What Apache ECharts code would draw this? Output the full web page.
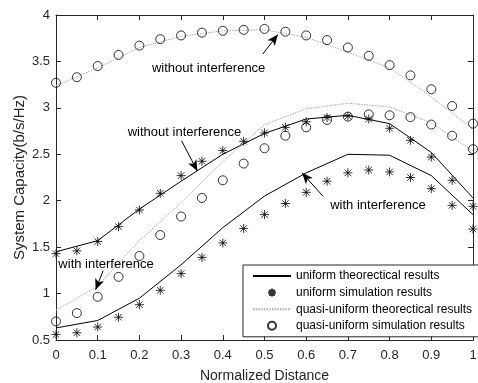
<!DOCTYPE html>
<html>
<head>
<meta charset="utf-8">
<script src="https://cdn.jsdelivr.net/npm/echarts@6/dist/echarts.min.js"></script>
<style>
html,body{margin:0;padding:0;background:#fff;}
#chart{width:478px;height:383px;}
</style>
</head>
<body>
<div id="chart"></div>
<script>
// ---- data ----
var simX = [0,0.05,0.1,0.15,0.2,0.25,0.3,0.35,0.4,0.45,0.5,0.55,0.6,0.65,0.7,0.75,0.8,0.85,0.9,0.95,1.0];
var theoX = [0,0.1,0.2,0.3,0.4,0.5,0.6,0.7,0.8,0.9,1.0];

// uniform theoretical (solid black)
var uniTheoNoInt = [1.45,1.57,1.91,2.21,2.50,2.725,2.88,2.92,2.83,2.52,2.03];
var uniTheoInt   = [0.63,0.71,0.95,1.31,1.71,2.05,2.30,2.50,2.49,2.27,1.85];
// uniform simulation (asterisks)
var uniSimNoInt = [1.43,1.46,1.56,1.72,1.90,2.08,2.27,2.425,2.54,2.64,2.73,2.79,2.85,2.895,2.91,2.88,2.78,2.65,2.47,2.22,1.94];
var uniSimInt   = [0.56,0.578,0.64,0.745,0.88,1.035,1.215,1.39,1.545,1.70,1.85,1.97,2.09,2.21,2.30,2.33,2.31,2.25,2.13,1.95,1.695];
// quasi-uniform theoretical (dotted gray)
var quasiTheoNoInt = [3.24,3.43,3.65,3.77,3.83,3.84,3.76,3.60,3.43,3.12,2.77];
var quasiTheoInt   = [0.82,1.08,1.57,1.98,2.42,2.82,2.99,3.05,3.01,2.84,2.53];
// quasi-uniform simulation (circles)
var quasiSimNoInt = [3.27,3.33,3.45,3.57,3.67,3.74,3.78,3.81,3.83,3.84,3.85,3.82,3.78,3.73,3.65,3.56,3.46,3.35,3.20,3.02,2.83];
var quasiSimInt   = [0.70,0.79,0.965,1.18,1.405,1.63,1.83,2.03,2.22,2.40,2.565,2.70,2.79,2.87,2.905,2.93,2.92,2.90,2.82,2.70,2.555];

var xTicks = {min:0, max:1, interval:0.1};
var yTicks = {min:0.5, max:4, interval:0.5};

var seriesNames = ['uniform theorectical results','uniform simulation results','quasi-uniform theorectical results','quasi-uniform simulation results'];

// annotations: text [x,y] and arrows [tailX,tailY,tipX,tipY] in data space
var annoTexts = [
  {text:'without interference', pos:[0.366,3.43]},
  {text:'without interference', pos:[0.308,2.735]},
  {text:'with interference', pos:[0.772,1.95]},
  {text:'with interference', pos:[0.12,1.313]}
];
var annoArrows = [
  [0.496,3.58,0.532,3.79],
  [0.301,2.647,0.339,2.32],
  [0.641,2.045,0.590,2.30],
  [0.113,1.247,0.095,1.04]
];

function pairs(xs, ys){ return xs.map(function(x,i){ return [x, ys[i]]; }); }

var FONT = '"Liberation Sans", Arial, Helvetica, sans-serif';
var starPath = 'path://M0 -5 L0 5 M-5 0 L5 0 M-3.6 -3.6 L3.6 3.6 M-3.6 3.6 L3.6 -3.6';
var clear = 'rgba(0,0,0,0)';

function lineSeries(name, ys, style){
  return {
    name:name, type:'line', data:pairs(theoX, ys), symbol:'none', showSymbol:false,
    lineStyle:style, itemStyle:{color:clear, borderWidth:0, opacity:0}, silent:true, animation:false, z:2
  };
}
function starSeries(name, ys){
  return {
    name:name, type:'scatter', data:pairs(simX, ys), symbol:starPath, symbolSize:9,
    itemStyle:{color:clear, borderColor:'#000', borderWidth:1}, silent:true, animation:false, z:3
  };
}
function circleSeries(name, ys){
  return {
    name:name, type:'scatter', data:pairs(simX, ys), symbol:'circle', symbolSize:9,
    itemStyle:{color:clear, borderColor:'#000', borderWidth:1}, silent:true, animation:false, z:3
  };
}

var solid = {color:'#000', width:1, type:'solid'};
var dotted = {color:'#a8a8a8', width:1, type:[1.5,1.2]};

var series = [
  lineSeries(seriesNames[0], uniTheoNoInt, solid),
  lineSeries(seriesNames[0], uniTheoInt, solid),
  starSeries(seriesNames[1], uniSimNoInt),
  starSeries(seriesNames[1], uniSimInt),
  lineSeries(seriesNames[2], quasiTheoNoInt, dotted),
  lineSeries(seriesNames[2], quasiTheoInt, dotted),
  circleSeries(seriesNames[3], quasiSimNoInt),
  circleSeries(seriesNames[3], quasiSimInt)
];

// annotation carrier series
series.push({
  name:'annotations', type:'line', data:[], silent:true, animation:false, z:5,
  markLine:{
    silent:true, animation:false, symbol:['none','arrow'], symbolSize:[7,11],
    lineStyle:{color:'#000', width:1, type:'solid'}, label:{show:false},
    data: annoArrows.map(function(a){ return [{coord:[a[0],a[1]]},{coord:[a[2],a[3]]}]; })
  },
  markPoint:{
    silent:true, animation:false, symbol:'circle', symbolSize:0,
    label:{show:true, position:'inside', color:'#000', fontSize:13, fontFamily:FONT},
    data: annoTexts.map(function(t){ return {coord:t.pos, value:t.text, label:{formatter:t.text}}; })
  }
});

var axisCommon = {
  type:'value', splitLine:{show:false},
  axisLine:{show:true, onZero:false, lineStyle:{color:'#262626', width:1}},
  axisTick:{show:true, inside:true, length:5, lineStyle:{color:'#262626'}}
};

var lineLegendStyle = {color:clear, borderWidth:0, opacity:0};

var option = {
  backgroundColor:'#fff',
  animation:false,
  grid:{left:56, right:5, top:15, bottom:43, containLabel:false, outerBoundsMode:'none'},
  xAxis:[
    Object.assign({}, axisCommon, {
      position:'bottom', min:xTicks.min, max:xTicks.max, interval:xTicks.interval,
      axisLabel:{color:'#262626', fontSize:13, fontFamily:FONT, margin:9},
      name:'Normalized Distance', nameLocation:'middle', nameGap:29, nameMoveOverlap:false,
      nameTextStyle:{color:'#262626', fontSize:14, fontFamily:FONT}
    }),
    Object.assign({}, axisCommon, {
      position:'top', min:xTicks.min, max:xTicks.max, interval:xTicks.interval,
      axisLabel:{show:false}
    })
  ],
  yAxis:[
    Object.assign({}, axisCommon, {
      position:'left', min:yTicks.min, max:yTicks.max, interval:yTicks.interval,
      axisLabel:{color:'#262626', fontSize:13, fontFamily:FONT, margin:6},
      name:'System Capacity(b/s/Hz)', nameLocation:'middle', nameGap:29, nameMoveOverlap:false,
      nameTextStyle:{color:'#262626', fontSize:15, fontFamily:FONT}
    }),
    Object.assign({}, axisCommon, {
      position:'right', min:yTicks.min, max:yTicks.max, interval:yTicks.interval,
      axisLabel:{show:false}
    })
  ],
  legend:{
    data:[
      {name:seriesNames[0], itemStyle:lineLegendStyle},
      {name:seriesNames[1]},
      {name:seriesNames[2], itemStyle:lineLegendStyle},
      {name:seriesNames[3]}
    ],
    orient:'vertical', left:243, top:265,
    itemWidth:38, itemHeight:8, itemGap:2.6, itemTextGap:4, padding:[4,10,4,9],
    backgroundColor:'#fff', borderColor:'#262626', borderWidth:1, borderRadius:0,
    textStyle:{color:'#000', fontSize:12, fontFamily:FONT, lineHeight:14},
    selectedMode:false
  },
  series:series
};

var chart = echarts.init(document.getElementById('chart'), null, {renderer:'canvas'});
chart.setOption(option);
</script>
</body>
</html>
